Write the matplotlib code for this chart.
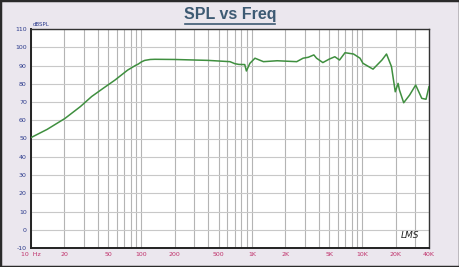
import matplotlib.pyplot as plt
from matplotlib.lines import Line2D
from matplotlib.patches import Rectangle

# valeurs (Hz, dBSPL)
freq = [10, 14, 20.3, 28, 35.4, 45, 57.5, 75, 88, 93.6, 100, 107, 120, 132,
        200, 400, 632, 700, 760, 860, 890, 958, 1064, 1270, 1690, 2540,
        2900, 3230, 3630, 3840, 4380, 5000, 5620, 6200, 6950, 8300, 9500,
        10100, 12460, 15000, 16500, 18300, 19800, 21000, 21600, 23600,
        26700, 30300, 34400, 37600, 40000]
spl = [50.5, 55, 61, 67.5, 73, 77.5, 82, 87.5, 90, 90.8, 92, 92.8, 93.3, 93.4,
       93.3, 92.8, 92.1, 91, 90.6, 90.5, 87, 91.2, 94, 92.1, 92.6, 92.1,
       94, 94.5, 95.8, 94, 91.6, 93.5, 94.8, 93, 97, 96.3, 94,
       91.2, 88, 93, 96.3, 89.4, 75.6, 80.2, 76.6, 69.6,
       73.8, 79.3, 72, 71.5, 78.4]

xticks = [10, 20, 50, 100, 200, 500, 1000, 2000, 5000, 10000, 20000, 40000]
xlabels = ['10  Hz', '20', '50', '100', '200', '500', '1K', '2K', '5K', '10K', '20K', '40K']
yticks = list(range(-10, 111, 10))

# lignes verticales de la grille : 10..90, 100..900, 1K..9K, 10K..40K
grille_x = [m * 10 ** d for d in range(1, 5) for m in range(1, 10) if m * 10 ** d <= 40000]

fig = plt.figure(figsize=(4.6, 2.67), dpi=100)
fig.patch.set_facecolor('#ebe7ee')
fig.add_artist(Rectangle((0, 0), 1, 1, transform=fig.transFigure, fill=False,
                         edgecolor='#2a2a2a', linewidth=2.5))

ax = fig.add_axes([31 / 460, 1 - 248 / 267, 398 / 460, 219 / 267])
ax.set_facecolor('white')
ax.set_xscale('log')
ax.set_xlim(10, 40000)
ax.set_ylim(-10, 110)

for f in grille_x:
    ax.axvline(f, color='#b4b4b4', linewidth=0.8, zorder=1)
for v in yticks:
    ax.axhline(v, color='#c8c8c8', linewidth=0.8, zorder=1)

ax.plot(freq, spl, color='#3f8f3f', linewidth=1.1, zorder=3)

ax.set_xticks(xticks)
ax.set_xticklabels(xlabels, fontsize=4.5, color='#c0306a')
ax.xaxis.set_minor_locator(plt.NullLocator())
ax.set_yticks(yticks)
ax.set_yticklabels([str(v) for v in yticks], fontsize=4.5, color='#2b3a8c')
ax.tick_params(length=0, pad=3)

for cote in ['left', 'bottom']:
    ax.spines[cote].set_linewidth(1.4)
    ax.spines[cote].set_color('#222222')
for cote in ['right', 'top']:
    ax.spines[cote].set_linewidth(1.0)
    ax.spines[cote].set_color('#333333')

ax.text(0.005, 1.01, 'dBSPL', transform=ax.transAxes, fontsize=4, color='#2b3a8c',
        ha='left', va='bottom')
ax.text(0.975, 0.035, 'LMS', transform=ax.transAxes, fontsize=6.5, style='italic',
        color='#222222', ha='right', va='bottom')

# titre souligné
fig.text(230 / 460, 1 - 19.5 / 267, 'SPL vs Freq', fontsize=11.5, fontweight='bold',
         color='#3d5a73', ha='center', va='baseline', family='Liberation Sans')
fig.add_artist(Line2D([185 / 460, 275 / 460], [1 - 23.5 / 267, 1 - 23.5 / 267],
                      transform=fig.transFigure, color='#3d5a73', linewidth=1.2))

plt.savefig('out.png', dpi=100, facecolor=fig.get_facecolor())
